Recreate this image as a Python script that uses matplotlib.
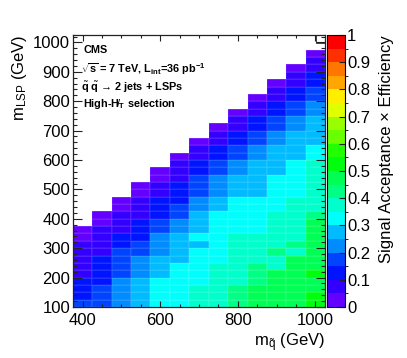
import colorsys
import numpy as np
import matplotlib
matplotlib.use("Agg")
import matplotlib.pyplot as plt
from matplotlib.colors import ListedColormap, BoundaryNorm
from matplotlib.ticker import MultipleLocator
from matplotlib.patches import Rectangle

plt.rcParams['font.family'] = ['Liberation Sans', 'DejaVu Sans']
plt.rcParams['mathtext.fontset'] = 'custom'
plt.rcParams['mathtext.rm'] = 'Liberation Sans'
plt.rcParams['mathtext.it'] = 'Liberation Sans:italic'
plt.rcParams['mathtext.bf'] = 'Liberation Sans:bold'

# --- data: squark mass columns, efficiency per 25 GeV LSP bin (from 100 GeV upward) ---
m_squark = [400, 450, 500, 550, 600, 650, 700, 750, 800, 850, 900, 950, 1000]
lsp_start = 100
lsp_step = 25
sq_step = 50

eff_400 = [0.17, 0.13, 0.12, 0.11, 0.09, 0.08, 0.07, 0.07, 0.06, 0.04, 0.03]
eff_450 = [0.18, 0.17, 0.16, 0.15, 0.14, 0.12, 0.11, 0.09, 0.08, 0.07, 0.06, 0.04, 0.03]
eff_500 = [0.23, 0.22, 0.21, 0.21, 0.19, 0.18, 0.17, 0.16, 0.13, 0.11, 0.09, 0.08, 0.06,
           0.04, 0.03]
eff_550 = [0.28, 0.27, 0.27, 0.26, 0.24, 0.22, 0.21, 0.18, 0.16, 0.14, 0.12, 0.11, 0.09,
           0.08, 0.06, 0.04, 0.03]
eff_600 = [0.33, 0.32, 0.32, 0.31, 0.29, 0.28, 0.26, 0.24, 0.23, 0.21, 0.18, 0.16, 0.14,
           0.12, 0.11, 0.09, 0.07, 0.04, 0.03]
eff_650 = [0.34, 0.34, 0.33, 0.33, 0.32, 0.31, 0.29, 0.28, 0.27, 0.26, 0.23, 0.21, 0.18,
           0.16, 0.14, 0.12, 0.11, 0.09, 0.08, 0.06, 0.03]
eff_700 = [0.37, 0.36, 0.36, 0.34, 0.34, 0.33, 0.32, 0.31, 0.29, 0.31, 0.28, 0.27, 0.26,
           0.23, 0.21, 0.19, 0.18, 0.16, 0.13, 0.11, 0.09, 0.07, 0.03]
eff_750 = [0.38, 0.38, 0.37, 0.37, 0.36, 0.36, 0.34, 0.34, 0.33, 0.33, 0.32, 0.31, 0.31,
           0.29, 0.27, 0.24, 0.23, 0.21, 0.18, 0.16, 0.14, 0.12, 0.09, 0.07, 0.03]
eff_800 = [0.41, 0.41, 0.40, 0.39, 0.39, 0.38, 0.38, 0.37, 0.36, 0.36, 0.34, 0.34, 0.33,
           0.32, 0.31, 0.29, 0.28, 0.26, 0.24, 0.22, 0.19, 0.17, 0.14, 0.12, 0.09, 0.07,
           0.03]
eff_850 = [0.46, 0.46, 0.45, 0.43, 0.42, 0.41, 0.39, 0.38, 0.37, 0.36, 0.34, 0.34, 0.33,
           0.32, 0.31, 0.29, 0.29, 0.28, 0.27, 0.26, 0.24, 0.22, 0.19, 0.17, 0.14, 0.12,
           0.09, 0.07, 0.03]
eff_900 = [0.47, 0.47, 0.46, 0.46, 0.45, 0.39, 0.38, 0.41, 0.39, 0.38, 0.37, 0.37, 0.36,
           0.34, 0.34, 0.33, 0.32, 0.31, 0.29, 0.28, 0.27, 0.26, 0.24, 0.22, 0.19, 0.17,
           0.14, 0.12, 0.09, 0.07, 0.03]
eff_950 = [0.48, 0.47, 0.47, 0.46, 0.46, 0.46, 0.45, 0.39, 0.42, 0.39, 0.39, 0.38, 0.38,
           0.37, 0.36, 0.34, 0.34, 0.33, 0.32, 0.31, 0.29, 0.28, 0.27, 0.26, 0.24, 0.22,
           0.19, 0.17, 0.14, 0.12, 0.09, 0.07, 0.03]
eff_1000 = [0.51, 0.51, 0.49, 0.48, 0.51, 0.48, 0.48, 0.47, 0.47, 0.46, 0.46, 0.45, 0.43,
            0.39, 0.39, 0.38, 0.38, 0.37, 0.37, 0.36, 0.34, 0.33, 0.29, 0.28, 0.27, 0.26,
            0.24, 0.22, 0.19, 0.17, 0.14, 0.12, 0.09, 0.07, 0.03]

columns = [eff_400, eff_450, eff_500, eff_550, eff_600, eff_650, eff_700,
           eff_750, eff_800, eff_850, eff_900, eff_950, eff_1000]

# fill the 2D grid, empty above the diagonal
n_rows = 37
grid = np.full((n_rows, len(m_squark)), np.nan)
for j, col in enumerate(columns):
    grid[:len(col), j] = col
grid = np.ma.masked_invalid(grid)

x_edges = np.append(np.array(m_squark) - sq_step / 2, m_squark[-1] + sq_step / 2)
y_edges = lsp_start + lsp_step * np.arange(n_rows + 1)

# ROOT "pretty" palette (violet -> red), 20 contour levels
root_colors = []
for k in range(20):
    idx = int((k + 0.99) * 50 / 20)
    hue = 280 - (idx + 1) * 280 / 50
    root_colors.append(colorsys.hls_to_rgb(hue / 360, 0.5, 1.0))
cmap = ListedColormap(root_colors)
norm = BoundaryNorm(np.linspace(0, 1, 21), cmap.N)

fig = plt.figure(figsize=(4.07, 3.58), dpi=100)
ax = fig.add_axes([0.179, 0.1425, 0.620, 0.7595])
cax = fig.add_axes([0.803, 0.1425, 0.045, 0.7595])

mesh = ax.pcolormesh(x_edges, y_edges, grid, cmap=cmap, norm=norm,
                     edgecolors=(1, 1, 1, 0.07), linewidth=0.3)

ax.set_xlim(375, 1025)
ax.set_ylim(100, 1025)
ax.xaxis.set_major_locator(MultipleLocator(200))
ax.xaxis.set_minor_locator(MultipleLocator(50))
ax.yaxis.set_major_locator(MultipleLocator(100))
ax.yaxis.set_minor_locator(MultipleLocator(20))
ax.tick_params(which='both', direction='in', top=True, right=True,
               labelsize=12, color='#222222', width=0.8)
ax.tick_params(axis='x', which='major', length=4.3, pad=4)
ax.tick_params(axis='x', which='minor', length=2.2)
ax.tick_params(axis='y', which='major', length=6.5, pad=2)
ax.tick_params(axis='y', which='minor', length=3.2)
for s in ax.spines.values():
    s.set_linewidth(0.9)
    s.set_color('#222222')

# axis titles, ROOT style (aligned to the far end of each axis)
fig.text(0.799, 0.0754, r'm$_{\tilde{\mathrm{q}}}$ (GeV)', fontsize=12,
         ha='right', va='top')
fig.text(0.049, 0.902, r'm$_{\mathrm{LSP}}$ (GeV)', fontsize=12,
         rotation=90, ha='center', va='top')
fig.text(0.950, 0.902, 'Signal Acceptance × Efficiency', fontsize=12,
         rotation=90, ha='center', va='top')

# little box in the top right corner
ax.add_patch(Rectangle((0.964, 0.971), 0.036, 0.029, transform=ax.transAxes,
                       fill=False, lw=0.6, ec='#222222', clip_on=False))

# labels inside the frame
fs = 7.8
ax.text(0.042, 0.945, 'CMS', transform=ax.transAxes, fontsize=fs,
        fontweight='bold', va='center')
ax.text(0.032, 0.874, r'$\sqrt{\mathbf{s}}$ = 7 TeV, L$_{\mathbf{int}}$=36 pb$^{\mathbf{-1}}$',
        transform=ax.transAxes, fontsize=fs, fontweight='bold', va='center')
ax.text(0.034, 0.809, r'$\tilde{\mathbf{q}}$ $\tilde{\mathbf{q}}$ → 2 jets + LSPs',
        transform=ax.transAxes, fontsize=fs, fontweight='bold', va='center')
ax.text(0.042, 0.746, r'High-$\mathbf{H}_{\mathbf{T}}\!\!\!\!\!/\;\;$ selection',
        transform=ax.transAxes, fontsize=fs, fontweight='bold', va='center')

cb = fig.colorbar(mesh, cax=cax, ticks=np.linspace(0, 1, 11))
cb.ax.set_yticklabels(['0', '0.1', '0.2', '0.3', '0.4', '0.5', '0.6', '0.7',
                       '0.8', '0.9', '1'])
cb.ax.tick_params(direction='in', length=4, width=0.8, labelsize=12, pad=1.5,
                  color='#222222')
cb.outline.set_linewidth(0.8)

fig.savefig('out.png', dpi=100)
